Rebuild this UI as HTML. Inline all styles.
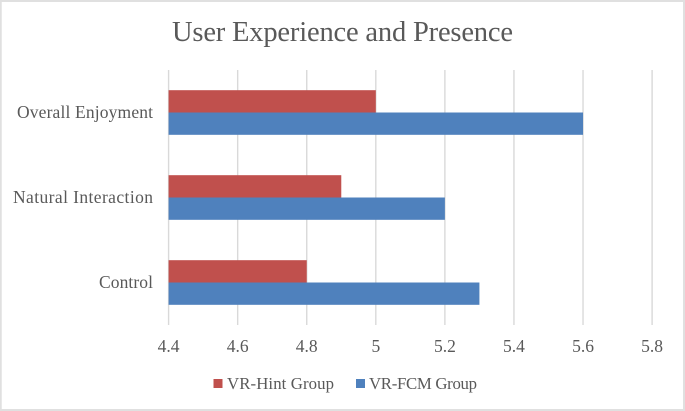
<!DOCTYPE html>
<html>
<head>
<meta charset="utf-8">
<style>
html,body{margin:0;padding:0;background:#fff;}
svg{display:block;}
text{font-family:"Liberation Serif",serif;fill:#595959;}
</style>
</head>
<body>
<svg id="chart" width="685" height="411" viewBox="0 0 685 411" xmlns="http://www.w3.org/2000/svg">
<rect x="0.75" y="1" width="683.25" height="409" fill="#fff" stroke="#e0e0e0" stroke-width="2"/>
<text x="172" y="41" font-size="28.5" textLength="341" lengthAdjust="spacing">User Experience and Presence</text>
<g id="grid"></g>
<g id="bars"></g>
<g id="labels"></g>
<g>
<rect x="213.5" y="379" width="9" height="9" fill="#c0504d"/>
<text x="227" y="389" font-size="16.8" textLength="107" lengthAdjust="spacing">VR-Hint Group</text>
<rect x="356" y="379" width="9" height="9" fill="#4f81bd"/>
<text x="369" y="389" font-size="16.8" textLength="108" lengthAdjust="spacing">VR-FCM Group</text>
</g>
</svg>
<script>
const categories = ["Overall Enjoyment", "Natural Interaction", "Control"];
const hintValues = [5.0, 4.9, 4.8];
const fcmValues = [5.6, 5.2, 5.3];
const xTicks = [4.4, 4.6, 4.8, 5, 5.2, 5.4, 5.6, 5.8];
const catWidths = [136, 140, 54];

const NS = "http://www.w3.org/2000/svg";
const plotTop = 70, plotBottom = 325, x0 = 168.6, x1 = 652.1;
const xDomainMin = xTicks[0], xDomainMax = xTicks[xTicks.length - 1];
function xScale(v) { return x0 + (v - xDomainMin) / (xDomainMax - xDomainMin) * (x1 - x0); }
function bandTop(i) { return plotTop + i * (plotBottom - plotTop) / categories.length; }
const band = (plotBottom - plotTop) / categories.length;
const barH = band * 0.2625;

function make(tag, attrs, parent) {
  const el = document.createElementNS(NS, tag);
  for (const k in attrs) el.setAttribute(k, attrs[k]);
  parent.appendChild(el);
  return el;
}

const grid = document.getElementById("grid");
const bars = document.getElementById("bars");
const labels = document.getElementById("labels");

xTicks.forEach(function (t) {
  const line = make("line", { x1: xScale(t), x2: xScale(t), y1: plotTop, y2: plotBottom, stroke: "#d9d9d9", "stroke-width": 1.4 }, grid);
  
  
  const label = make("text", { x: xScale(t), y: 352, "font-size": 17.5, "text-anchor": "middle" }, labels);
  
  
  label.textContent = String(t);
});

categories.forEach(function (c, i) {
  const mid = bandTop(i) + band / 2;
  const hint = make("rect", { x: x0, y: mid - barH, width: xScale(hintValues[i]) - x0, height: barH, fill: "#c0504d" }, bars);
  
  
  const fcm = make("rect", { x: x0, y: mid, width: xScale(fcmValues[i]) - x0, height: barH, fill: "#4f81bd" }, bars);
  
  
  const label = make("text", { x: 153, y: mid + 5.5, "font-size": 17.5, "text-anchor": "end", textLength: catWidths[i], lengthAdjust: "spacing" }, labels);
  
  
  label.textContent = c;
});
</script>
</body>
</html>
